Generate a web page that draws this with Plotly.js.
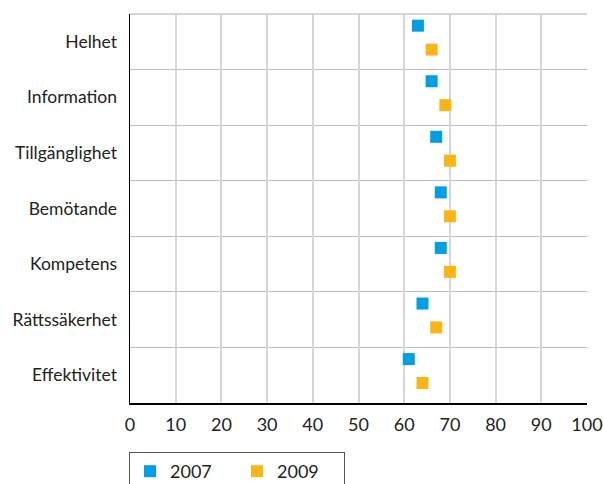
<!DOCTYPE html>
<html>
<head>
<meta charset="utf-8">
<script src="https://cdn.plot.ly/plotly-3.0.1.min.js"></script>
<style>html,body{margin:0;padding:0;background:#fff;}#chart{width:603px;height:484px;}</style>
</head>
<body>
<div id="chart"></div>
<script>
const categories = ["Helhet", "Information", "Tillgänglighet", "Bemötande", "Kompetens", "Rättssäkerhet", "Effektivitet"];
const values2007 = [63, 66, 67, 68, 68, 64, 61];
const values2009 = [66, 69, 70, 70, 70, 67, 64];
const seriesNames = ["2007", "2009"];
const xTicks = [0, 10, 20, 30, 40, 50, 60, 70, 80, 90, 100];

const idx = categories.map((c, i) => i);
const off2007 = -0.29, off2009 = 0.14;
const fontFam = "Lato, 'Open Sans', sans-serif";

const traces = [
  {type: "scatter", mode: "markers", name: seriesNames[0], x: values2007, y: idx.map(i => i + off2007),
   marker: {symbol: "square", size: 12, color: "#009fe3"}, cliponaxis: false},
  {type: "scatter", mode: "markers", name: seriesNames[1], x: values2009, y: idx.map(i => i + off2009),
   marker: {symbol: "square", size: 12, color: "#fbb416"}, cliponaxis: false}
];

const layout = {
  width: 603, height: 484,
  margin: {l: 130, r: 16, t: 14, b: 81},
  paper_bgcolor: "#fff", plot_bgcolor: "#fff",
  font: {family: fontFam, size: 17, color: "#222"},
  showlegend: true,
  xaxis: {
    range: [0, 100], tickvals: xTicks, ticktext: xTicks.map(String),
    showgrid: true, gridcolor: "#d6d6d6", gridwidth: 2,
    zeroline: false, showline: true, linecolor: "#000", linewidth: 1.5,
    ticks: "", ticklabelstandoff: 5, tickfont: {size: 18, color: "#222"}, fixedrange: true
  },
  yaxis: {
    range: [6.5, -0.5], tickvals: idx, ticktext: categories,
    showgrid: false, zeroline: false, showline: true, linecolor: "#000", linewidth: 1.5,
    ticks: "", ticklabelstandoff: 8, tickfont: {size: 17.5, color: "#222"},
    minor: {tickmode: "linear", tick0: 0.5, dtick: 1, showgrid: true, gridcolor: "#bdbdbd", gridwidth: 1, ticks: ""},
    fixedrange: true
  },
  shapes: [
    {type: "line", xref: "paper", yref: "paper", x0: 0, x1: 1, y0: 1, y1: 1, line: {color: "#c8c8c8", width: 1.5}}
  ],
  legend: {
    orientation: "h", x: 129 / 603, xref: "container", xanchor: "left",
    y: 1 - 452 / 484, yref: "container", yanchor: "top",
    bordercolor: "#555", borderwidth: 1, entrywidth: 62, entrywidthmode: "pixels",
    font: {size: 18, color: "#222"}, itemsizing: "trace"
  }
};

Plotly.newPlot("chart", traces, layout, {displayModeBar: false, staticPlot: true});
</script>
</body>
</html>
